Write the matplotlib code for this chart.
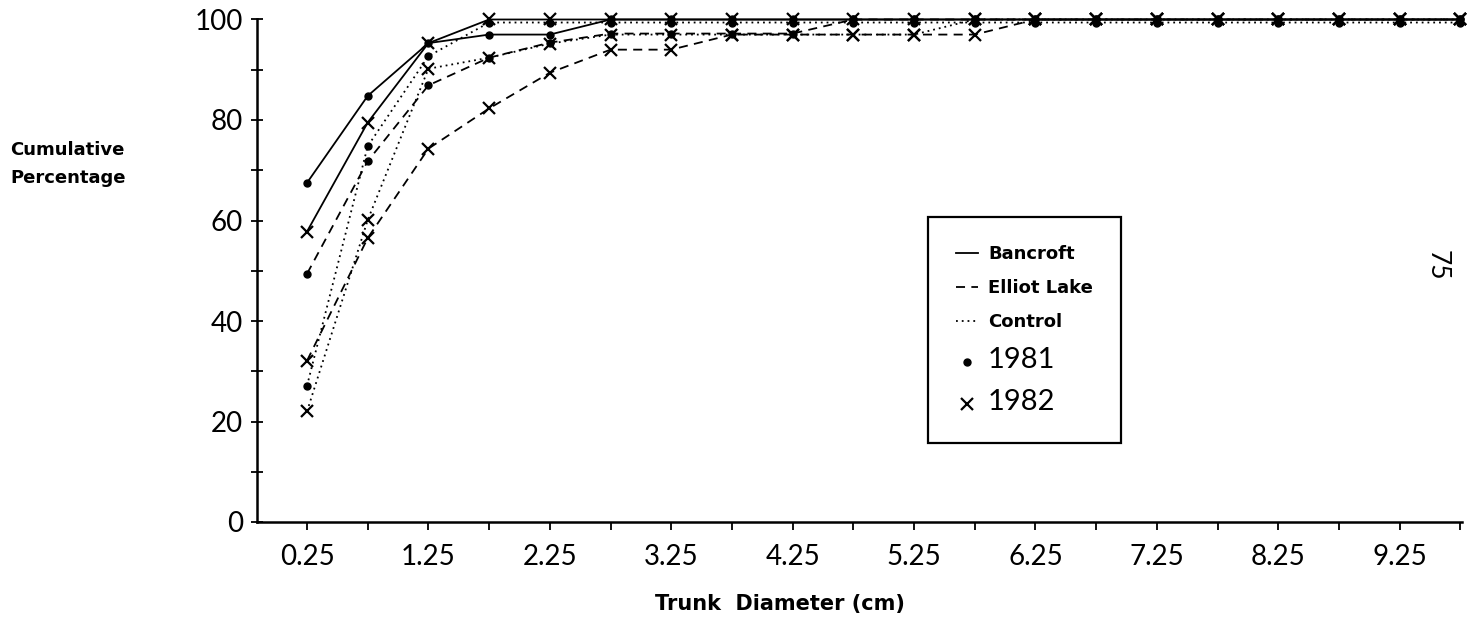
import matplotlib
matplotlib.use("Agg")
import matplotlib.pyplot as plt
from matplotlib.lines import Line2D
from matplotlib.ticker import FixedLocator

# =========================
# DATA
# =========================

diameter = [0.25, 0.75, 1.25, 1.75, 2.25, 2.75, 3.25, 3.75, 4.25, 4.75,
            5.25, 5.75, 6.25, 6.75, 7.25, 7.75, 8.25, 8.75, 9.25, 9.75]

bancroft_1981 = [67.5, 84.8, 95.3, 97.0, 97.0, 100, 100, 100, 100, 100,
                 100, 100, 100, 100, 100, 100, 100, 100, 100, 100]
bancroft_1982 = [57.8, 79.5, 95.3, 100, 100, 100, 100, 100, 100, 100,
                 100, 100, 100, 100, 100, 100, 100, 100, 100, 100]
elliot_1981 = [49.4, 71.8, 86.9, 92.4, 95.4, 97.2, 97.2, 97.2, 97.2, 100,
               100, 100, 100, 100, 100, 100, 100, 100, 100, 100]
elliot_1982 = [32.1, 56.5, 74.3, 82.3, 89.4, 94.0, 94.0, 97.0, 97.0, 97.0,
               97.0, 97.0, 100, 100, 100, 100, 100, 100, 100, 100]
control_1981 = [27.1, 74.8, 92.7, 99.4, 99.4, 99.4, 99.4, 99.4, 99.4, 99.4,
                99.4, 99.4, 99.4, 99.4, 99.4, 99.4, 99.4, 99.4, 99.4, 99.4]
control_1982 = [22.0, 60.1, 90.2, 92.4, 95.2, 97.0, 97.0, 97.0, 97.0, 97.0,
                97.0, 100, 100, 100, 100, 100, 100, 100, 100, 100]

major_x = [0.25, 1.25, 2.25, 3.25, 4.25, 5.25, 6.25, 7.25, 8.25, 9.25]
major_x_labels = ["0.25", "1.25", "2.25", "3.25", "4.25",
                  "5.25", "6.25", "7.25", "8.25", "9.25"]
minor_x = [0.75, 1.75, 2.75, 3.75, 4.75, 5.75, 6.75, 7.75, 8.75, 9.75]
major_y = [0, 20, 40, 60, 80, 100]
minor_y = [10, 30, 50, 70, 90]

# =========================
# STYLES
# =========================

solid = dict(linestyle="-")
dashed = dict(linestyle=(0, (5, 3.5)))
dotted = dict(linestyle=(0, (1, 2.2)))
dot_mk = dict(marker="o", markersize=5)
x_mk = dict(marker="x", markersize=8, markeredgewidth=1.6)

series = [
    (control_1981, dotted, dot_mk),
    (control_1982, dotted, x_mk),
    (elliot_1981, dashed, dot_mk),
    (elliot_1982, dashed, x_mk),
    (bancroft_1981, solid, dot_mk),
    (bancroft_1982, solid, x_mk),
]

thin = dict(family="Lato", weight="normal")
bold = dict(family="DejaVu Sans", weight="bold")

# =========================
# PLOT
# =========================

fig = plt.figure(figsize=(14.67, 6.25), dpi=100)
ax = fig.add_axes([257 / 1467, 1 - 522 / 625, 1205 / 1467, 502.5 / 625])

for vals, ls, mk in series:
    ax.plot(diameter, vals, color="black", linewidth=1.3, clip_on=False, **ls, **mk)

ax.set_xlim(-0.162, 9.764)
ax.set_ylim(0, 100)

for side in ["top", "right"]:
    ax.spines[side].set_visible(False)
for side in ["left", "bottom"]:
    ax.spines[side].set_linewidth(1.8)

ax.xaxis.set_major_locator(FixedLocator(major_x))
ax.xaxis.set_minor_locator(FixedLocator(minor_x))
ax.set_xticklabels(major_x_labels)
ax.yaxis.set_major_locator(FixedLocator(major_y))
ax.yaxis.set_minor_locator(FixedLocator(minor_y))

ax.tick_params(axis="x", which="both", direction="out", length=6, width=1.3, pad=10)
ax.tick_params(axis="y", which="both", direction="inout", length=8, width=1.3, pad=6)
for lab in ax.get_xticklabels() + ax.get_yticklabels():
    lab.set_fontsize(20)
    lab.set_fontfamily("Lato")
    lab.set_fontweight("normal")

# axis titles
fig.text(10 / 1467, 1 - 150 / 625, "Cumulative", fontsize=13, va="center", ha="left", **bold)
fig.text(10 / 1467, 1 - 178 / 625, "Percentage", fontsize=13, va="center", ha="left", **bold)
fig.text(780 / 1467, 1 - 604 / 625, "Trunk  Diameter (cm)", fontsize=15,
         va="center", ha="center", **bold)

# page number
fig.text(1437 / 1467, 1 - 265 / 625, "75", fontsize=19, rotation=-90,
         va="center", ha="center", **thin)

# legend
handles = [
    Line2D([], [], color="black", linewidth=1.3, **solid),
    Line2D([], [], color="black", linewidth=1.3, **dashed),
    Line2D([], [], color="black", linewidth=1.3, **dotted),
    Line2D([], [], color="black", linestyle="none", **dot_mk),
    Line2D([], [], color="black", linestyle="none", **x_mk),
]
labels = ["Bancroft", "Elliot Lake", "Control", "1981", "1982"]
leg = ax.legend(handles, labels, loc="upper left",
                bbox_to_anchor=((928 - 257) / 1205, (522 - 217) / 502.5),
                frameon=True, fancybox=False, framealpha=1, edgecolor="black",
                fontsize=12, handlelength=1.3, handletextpad=0.6,
                labelspacing=0.95, borderpad=1.7, borderaxespad=0)
leg.get_frame().set_linewidth(1.6)
for i, t in enumerate(leg.get_texts()):
    if i < 3:
        t.set_fontfamily("DejaVu Sans")
        t.set_fontweight("bold")
        t.set_fontsize(13)
    else:
        t.set_fontfamily("Lato")
        t.set_fontweight("normal")
        t.set_fontsize(21)

fig.savefig("out.png", dpi=100)
